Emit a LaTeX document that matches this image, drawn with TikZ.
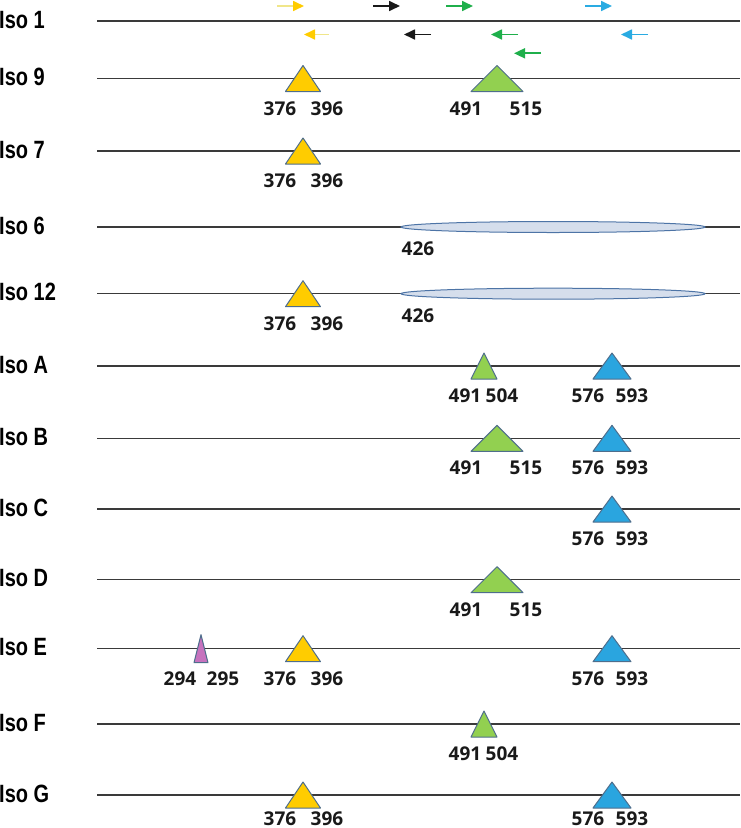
\documentclass[tikz,border=0pt]{standalone}
\usepackage{fontspec}
\usepackage{tikz}
\usetikzlibrary{arrows.meta}
\newfontfamily\isofont{Liberation Sans Bold}[FakeStretch=0.8]
\newfontfamily\numfont{Open Sans}
\definecolor{linegray}{HTML}{3A3A3A}
\definecolor{edgeblue}{HTML}{4F6E8C}
\definecolor{featyellow}{HTML}{FFCC00}
\definecolor{featgreen}{HTML}{92D050}
\definecolor{featblue}{HTML}{2AA5DF}
\definecolor{featpink}{HTML}{C672BE}
\definecolor{ovalfill}{HTML}{D5DEEC}
\definecolor{ovaledge}{HTML}{4D74A6}
\definecolor{yelline}{HTML}{F0E68A}
\definecolor{arrgreen}{HTML}{1FAF4B}
\definecolor{arrblue}{HTML}{2AABE2}

\begin{document}
\begin{tikzpicture}[
    x=1pt, y=-1pt,
    iso/.style={anchor=base west, inner sep=0pt, font=\isofont\fontsize{25}{25}\selectfont},
    num/.style={anchor=base, inner sep=0pt, text depth=0pt, font=\numfont\bfseries\fontsize{19}{19}\selectfont, text=black!90},
    track/.style={draw=linegray, line width=1.2pt},
    feat/.style={draw=edgeblue, line width=1pt, line join=round},
    yel/.style={feat, fill=featyellow},
    grn/.style={feat, fill=featgreen},
    blu/.style={feat, fill=featblue},
    pnk/.style={feat, fill=featpink},
    oval/.style={draw=ovaledge, line width=1pt, fill=ovalfill},
    arr/.style={line width=1.7pt, -{Triangle[length=11pt,width=10pt]}},
    yarr/.style={line width=1.7pt, draw=yelline, -{Triangle[length=11pt,width=10pt,color=featyellow]}}
]
\useasboundingbox (0,0) rectangle (740,828);

% row labels
\node[iso] (i1) at (-1,28) {Iso 1};
\node[iso] (i9) at (-1,85.5) {Iso 9};
\node[iso] (i7) at (-1,158) {Iso 7};
\node[iso] (i6) at (-1,234) {Iso 6};
\node[iso] (i12) at (-1,300.7) {Iso 12};
\node[iso] (iA) at (-1,373) {Iso A};
\node[iso] (iB) at (-1,445.3) {Iso B};
\node[iso] (iC) at (-1,516) {Iso C};
\node[iso] (iD) at (-1,586.7) {Iso D};
\node[iso] (iE) at (-1,655.7) {Iso E};
\node[iso] (iF) at (-1,731) {Iso F};
\node[iso] (iG) at (-1,802) {Iso G};

% tracks
\draw[track] (97.3,21) -- (740,21);
\draw[track] (97.3,78.5) -- (740,78.5);
\draw[track] (97.3,151) -- (740,151);
\draw[track] (97.3,227) -- (740,227);
\draw[track] (97.3,293.7) -- (740,293.7);
\draw[track] (97.3,366) -- (740,366);
\draw[track] (97.3,438.3) -- (740,438.3);
\draw[track] (97.3,509) -- (740,509);
\draw[track] (97.3,579.7) -- (740,579.7);
\draw[track] (97.3,648.7) -- (740,648.7);
\draw[track] (97.3,724) -- (740,724);
\draw[track] (97.3,795) -- (740,795);

% primers on Iso 1
\draw[yarr] (277,6) -- (304,6);
\draw[arr, draw=black!90] (373,6) -- (400,6);
\draw[arr, draw=arrgreen] (446,6) -- (473,6);
\draw[arr, draw=arrblue] (585,6) -- (612,6);
\draw[yarr] (329,34.5) -- (304,34.5);
\draw[arr, draw=black!90] (431,34.5) -- (404,34.5);
\draw[arr, draw=arrgreen] (518,34.5) -- (491,34.5);
\draw[arr, draw=arrblue] (648,34.5) -- (621,34.5);
\draw[arr, draw=arrgreen] (541,53.3) -- (514,53.3);

% Iso 9
\draw[yel] (303,65.5) -- (320.5,91.5) -- (285.5,91.5) -- cycle;
\draw[grn] (497,65.5) -- (523,91.5) -- (471,91.5) -- cycle;
\node[num] (n9a) at (280,115) {376};
\node[num] (n9b) at (327,115) {396};
\node[num] (n9c) at (466,115) {491};
\node[num] (n9d) at (526,115) {515};

% Iso 7
\draw[yel] (303,138) -- (320.5,164) -- (285.5,164) -- cycle;
\node[num] (n7a) at (280,187.5) {376};
\node[num] (n7b) at (327,187.5) {396};

% Iso 6
\draw[oval] (553,227) ellipse [x radius=152, y radius=5.5];
\node[num] (n6a) at (418,255.3) {426};

% Iso 12
\draw[yel] (303,280.7) -- (320.5,306.7) -- (285.5,306.7) -- cycle;
\draw[oval] (553,293.7) ellipse [x radius=152, y radius=5.5];
\node[num] (n12a) at (280,330.2) {376};
\node[num] (n12b) at (327,330.2) {396};
\node[num] (n12c) at (418,322) {426};

% Iso A
\draw[grn] (484,353) -- (497,379) -- (471,379) -- cycle;
\draw[blu] (612,353) -- (631,379) -- (593,379) -- cycle;
\node[num] (nAa) at (465,402.5) {491};
\node[num] (nAb) at (502,402.5) {504};
\node[num] (nAc) at (588,402.5) {576};
\node[num] (nAd) at (632,402.5) {593};

% Iso B
\draw[grn] (497,425.3) -- (523,451.3) -- (471,451.3) -- cycle;
\draw[blu] (612,425.3) -- (631,451.3) -- (593,451.3) -- cycle;
\node[num] (nBa) at (466,474.8) {491};
\node[num] (nBb) at (526,474.8) {515};
\node[num] (nBc) at (588,474.8) {576};
\node[num] (nBd) at (632,474.8) {593};

% Iso C
\draw[blu] (612,496) -- (631,522) -- (593,522) -- cycle;
\node[num] (nCa) at (588,545.5) {576};
\node[num] (nCb) at (632,545.5) {593};

% Iso D
\draw[grn] (497,566.7) -- (523,592.7) -- (471,592.7) -- cycle;
\node[num] (nDa) at (466,616.2) {491};
\node[num] (nDb) at (526,616.2) {515};

% Iso E
\draw[pnk] (201,634.7) -- (208,662.7) -- (194,662.7) -- cycle;
\draw[yel] (303,635.7) -- (320.5,661.7) -- (285.5,661.7) -- cycle;
\draw[blu] (612,635.7) -- (631,661.7) -- (593,661.7) -- cycle;
\node[num] (nEa) at (180,685.2) {294};
\node[num] (nEb) at (223,685.2) {295};
\node[num] (nEc) at (280,685.2) {376};
\node[num] (nEd) at (327,685.2) {396};
\node[num] (nEe) at (588,685.2) {576};
\node[num] (nEf) at (632,685.2) {593};

% Iso F
\draw[grn] (484,711) -- (497,737) -- (471,737) -- cycle;
\node[num] (nFa) at (465,760.5) {491};
\node[num] (nFb) at (502,760.5) {504};

% Iso G
\draw[yel] (303,782) -- (320.5,808) -- (285.5,808) -- cycle;
\draw[blu] (612,782) -- (631,808) -- (593,808) -- cycle;
\node[num] (nGa) at (280,825) {376};
\node[num] (nGb) at (327,825) {396};
\node[num] (nGc) at (588,825) {576};
\node[num] (nGd) at (632,825) {593};
\end{tikzpicture}
\end{document}
